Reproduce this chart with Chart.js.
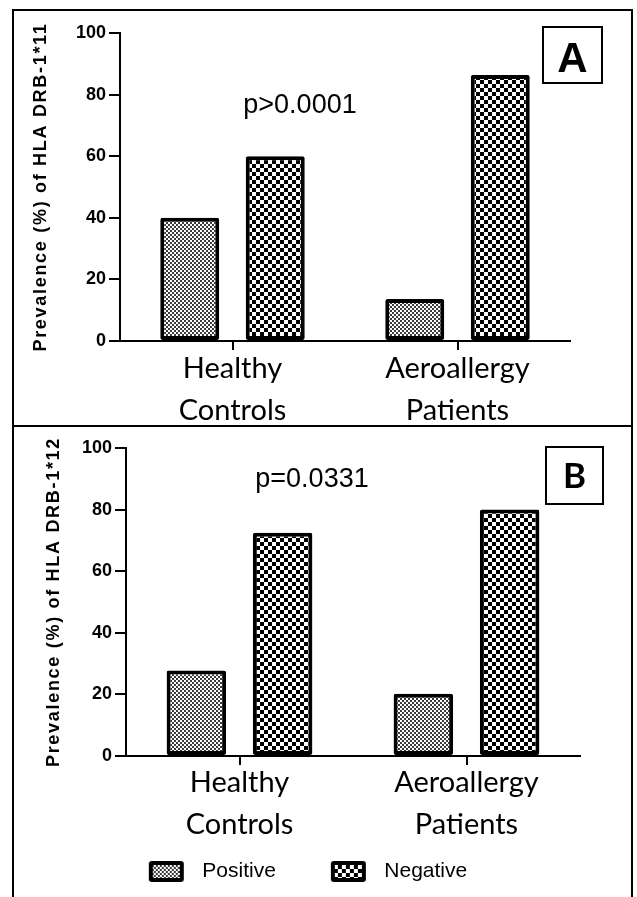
<!DOCTYPE html>
<html>
<head>
<meta charset="utf-8">
<script src="https://cdn.jsdelivr.net/npm/chart.js@4"></script>
<style>
  html, body { margin: 0; padding: 0; background: #fff; }
  body { width: 637px; height: 897px; position: relative; overflow: hidden; }
  .frame { position: absolute; box-sizing: border-box; border: 2px solid #000; }
  canvas { position: absolute; left: 0; }
</style>
</head>
<body>
<div class="frame" style="left:12px; top:9px; width:621px; height:418px;"></div>
<div class="frame" style="left:12px; top:425px; width:621px; height:500px; border-top:none;"></div>
<canvas id="chartA" width="637" height="426" style="top:0"></canvas>
<canvas id="chartB" width="637" height="471" style="top:426px"></canvas>
<script>
// data
const categories = [['Healthy', 'Controls'], ['Aeroallergy', 'Patients']];
const seriesNames = ['Positive', 'Negative'];
const positiveA = [40, 13.6];
const negativeA = [60, 86.4];
const positiveB = [27.8, 20.2];
const negativeB = [72.5, 80];
const yTicks = [0, 20, 40, 60, 80, 100];

Chart.defaults.font.family = '"Liberation Sans", Arial, sans-serif';
Chart.defaults.color = '#000';

// checkerboard tiles used as bar fills
function checker(cell, ink) {
  const c = document.createElement('canvas');
  c.width = c.height = cell * 2;
  const g = c.getContext('2d');
  g.fillStyle = '#fff';
  g.fillRect(0, 0, cell * 2, cell * 2);
  g.fillStyle = ink;
  g.fillRect(0, 0, cell, cell);
  g.fillRect(cell, cell, cell, cell);
  return c;
}
const fineTile = checker(2, '#3a3a3a');
const coarseTile = checker(4, '#000');
const patCtx = document.createElement('canvas').getContext('2d');
const finePattern = patCtx.createPattern(fineTile, 'repeat');
const coarsePattern = patCtx.createPattern(coarseTile, 'repeat');

// legend swatch: empty lead-in, 35x21 box, 8px gap before the text
function swatch(tile) {
  const c = document.createElement('canvas');
  c.width = 88; c.height = 21;
  const g = c.getContext('2d');
  g.fillStyle = '#000';
  g.beginPath();
  g.roundRect(45, 0, 35, 21, 3);
  g.fill();
  g.fillStyle = g.createPattern(tile, 'repeat');
  g.fillRect(49, 4, 27, 13);
  return c;
}
const swatches = [swatch(fineTile), swatch(coarseTile)];

function datasets(pos, neg) {
  const base = { borderColor: '#000', borderWidth: 4, borderSkipped: false, borderRadius: 2 };
  return [
    Object.assign({ label: seriesNames[0], data: pos, backgroundColor: finePattern }, base),
    Object.assign({ label: seriesNames[1], data: neg, backgroundColor: coarsePattern }, base)
  ];
}

// letter-spaced y axis title
const spacedTitle = {
  id: 'spacedTitle',
  beforeDraw(chart) {
    const s = chart.scales.y;
    if (s.drawTitle.spaced) return;
    const orig = s.drawTitle;
    s.drawTitle = function () {
      const prev = this.ctx.letterSpacing;
      this.ctx.letterSpacing = '1.7px';
      orig.apply(this, arguments);
      this.ctx.letterSpacing = prev;
    };
    s.drawTitle.spaced = true;
  }
};

// p value and panel letter
const panelNotes = {
  id: 'panelNotes',
  afterDraw(chart, args, o) {
    const ctx = chart.ctx;
    ctx.save();
    ctx.fillStyle = '#000';
    ctx.textAlign = 'center';
    ctx.textBaseline = 'alphabetic';
    ctx.font = '27px "Liberation Sans"';
    ctx.fillText(o.pText, o.pX, o.pY);
    ctx.lineWidth = 2;
    ctx.strokeStyle = '#000';
    ctx.strokeRect(o.box[0], o.box[1], o.box[2], o.box[3]);
    ctx.font = o.letterFont;
    ctx.fillText(o.letter, o.box[0] + o.box[2] / 2, o.letterY);
    ctx.restore();
  }
};

function options(cfg) {
  return {
    responsive: false,
    animation: false,
    devicePixelRatio: 1,
    layout: { padding: cfg.padding },
    datasets: { bar: { categoryPercentage: 0.76, barPercentage: 0.69 } },
    scales: {
      x: {
        grid: { offset: false, drawOnChartArea: false, tickLength: 9, color: '#000', lineWidth: 2 },
        border: { color: '#000', width: 2 },
        ticks: { color: '#000', maxRotation: 0, padding: cfg.xPad, font: { family: 'Lato', size: 29, lineHeight: 1.45 } },
        afterFit: s => { s.height = cfg.xHeight; }
      },
      y: {
        min: 0,
        max: 100,
        afterBuildTicks: s => { s.ticks = yTicks.map(v => ({ value: v })); },
        grid: { drawOnChartArea: false, tickLength: 11, color: '#000', lineWidth: 2 },
        border: { color: '#000', width: 2 },
        ticks: { color: '#000', padding: 3, font: { size: 18, weight: 'bold' } },
        title: {
          display: true,
          text: cfg.title,
          color: '#000',
          font: { size: 18, weight: 'bold' },
          padding: { top: cfg.titlePad, bottom: 0 }
        },
        afterFit: s => { s.width = cfg.yWidth; }
      }
    },
    plugins: {
      legend: cfg.legend ? {
        position: 'bottom',
        labels: {
          usePointStyle: true,
          pointStyleWidth: 88,
          padding: 10,
          color: '#000',
          font: { size: 21 },
          generateLabels: () => seriesNames.map((n, i) => ({
            text: n, pointStyle: swatches[i], fillStyle: '#000', strokeStyle: '#000',
            lineWidth: 0, hidden: false, datasetIndex: i
          }))
        }
      } : { display: false },
      tooltip: { enabled: false },
      panelNotes: cfg.notes
    }
  };
}

new Chart(document.getElementById('chartA'), {
  type: 'bar',
  data: { labels: categories, datasets: datasets(positiveA, negativeA) },
  options: options({
    padding: { left: 30, right: 67, top: 33, bottom: 0 },
    xHeight: 85, xPad: -2, yWidth: 90, titlePad: 0,
    title: 'Prevalence (%) of HLA DRB-1*11',
    legend: false,
    notes: { pText: 'p>0.0001', pX: 300, pY: 113, box: [543, 27, 59, 56], letter: 'A',
             letterFont: 'bold 42px "Liberation Sans"', letterY: 72 }
  }),
  plugins: [spacedTitle, panelNotes]
});

new Chart(document.getElementById('chartB'), {
  type: 'bar',
  data: { labels: categories, datasets: datasets(positiveB, negativeB) },
  options: options({
    padding: { left: -9, right: 57, top: 22, bottom: 5 },
    xHeight: 95, xPad: -3, yWidth: 135, titlePad: 52,
    title: 'Prevalence (%) of HLA DRB-1*12',
    legend: true,
    notes: { pText: 'p=0.0331', pX: 312, pY: 61, box: [546, 21, 57, 57], letter: 'B',
             letterFont: 'bold 35px Lato', letterY: 62 }
  }),
  plugins: [spacedTitle, panelNotes]
});
</script>
</body>
</html>
